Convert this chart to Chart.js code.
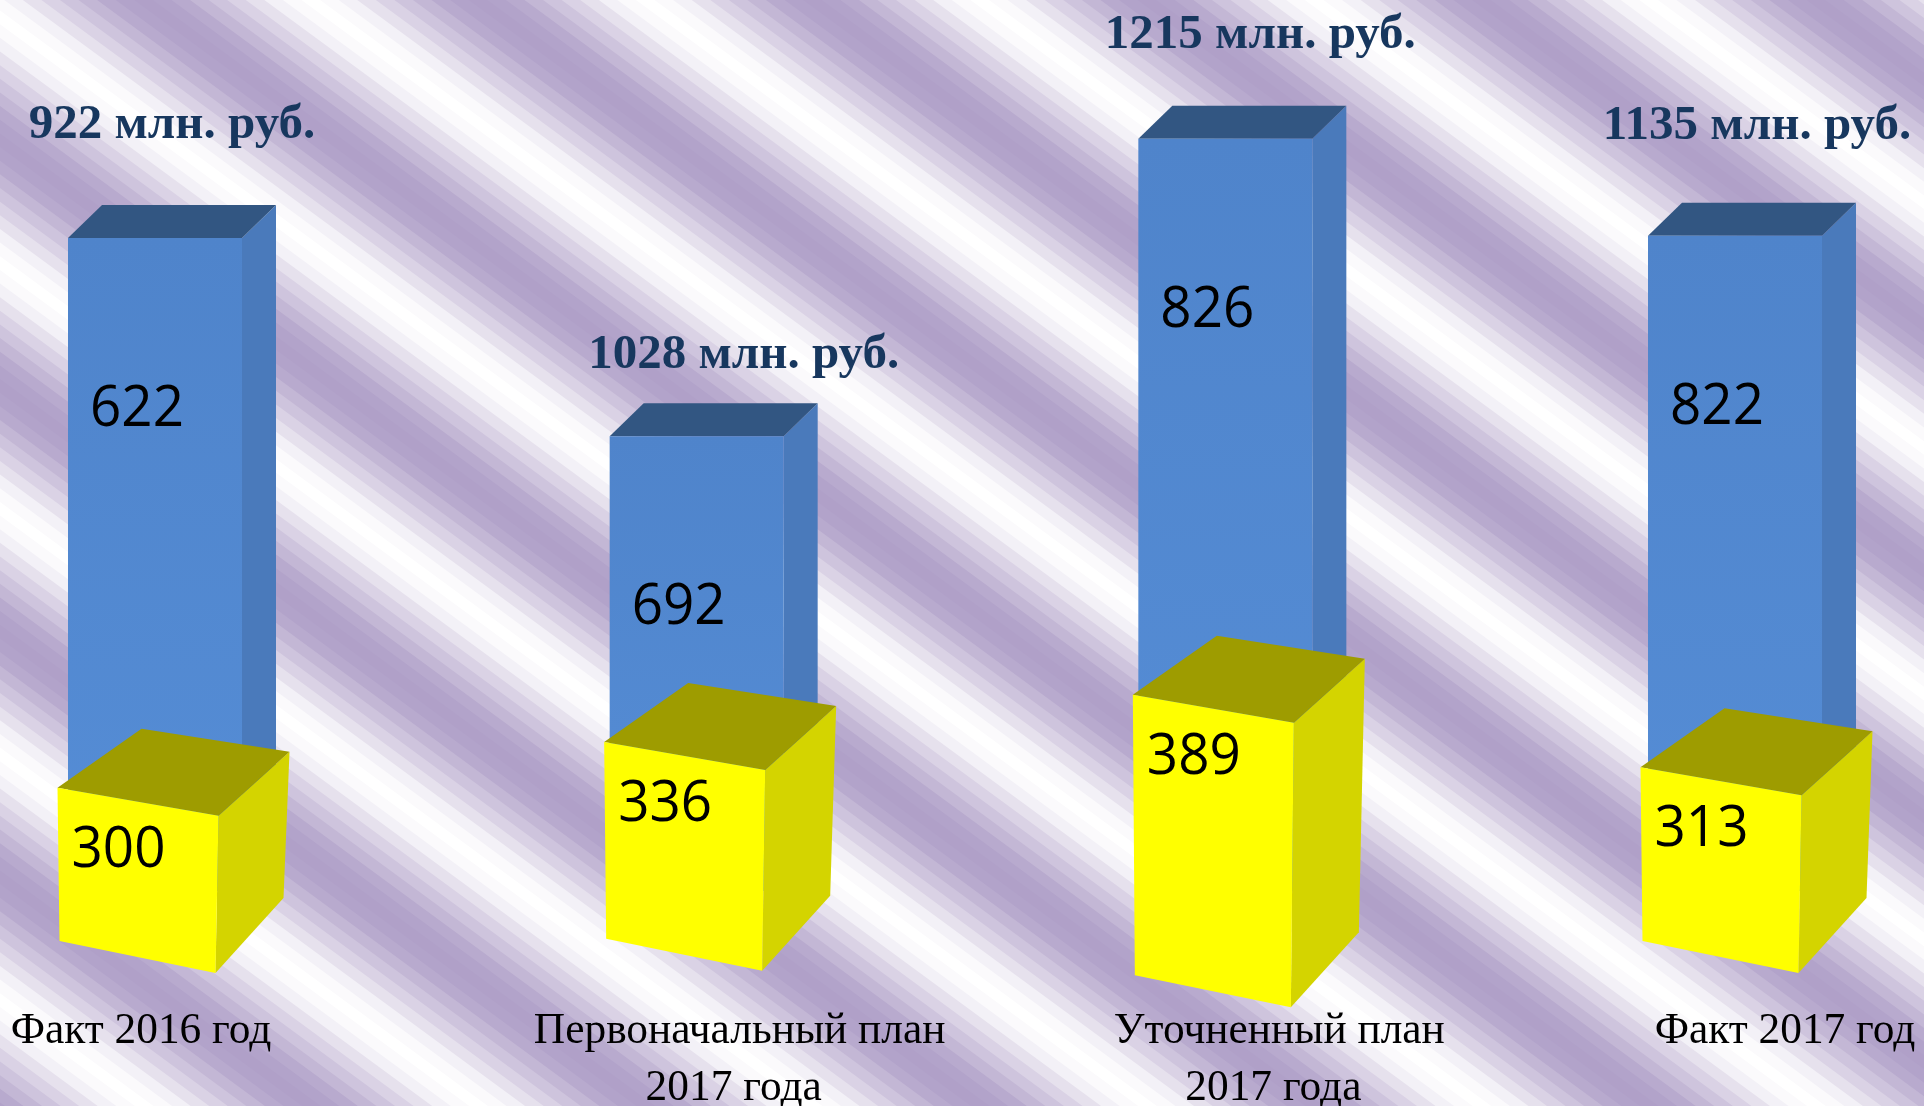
<!DOCTYPE html>
<html><head><meta charset="utf-8">
<style>html,body{margin:0;padding:0;background:#fff;overflow:hidden}canvas{display:block}</style>
<script src="https://cdn.jsdelivr.net/npm/chart.js@4/dist/chart.umd.min.js"></script>
</head><body><canvas id="c" width="1924" height="1106"></canvas>
<script>
// Printed values, as they read in the reference
const categories = ['Факт 2016 год', ['Первоначальный план', '2017 года'], ['Уточненный план', '2017 года'], 'Факт 2017 год'];
const totals = [922, 1028, 1215, 1135];
const blueLabels = [622, 692, 826, 822];
const yellowLabels = [300, 336, 389, 313];
// Drawn heights: the reference's shapes are not to scale with their printed values
const blueHeights = [922, 662, 1052, 925];
const yellowTops = [201, 261, 323, 228];
const yellowBases = [0, 3, -45, 0];

const layout3d = {
  blue: { nudge: [-8, 7, 9, -8], depth: [34, -33], hide: 50, labelAt: [22, 188] },
  yellow: { nudge: [-25, -5, -3, -22], labelAt: [14, 79], drop: 28, bottomDrop: 32,
            backLeft: [84, -59], backRight: [71, -64], backBottom: [68, -75] },
  total: { at: [[17, -100], [47, -68], [35, -91], [22, -97]] },
  tick: { dx: [-22, 50, 63, 42], baseline: 1043, lineHeight: 57, secondLineDx: -6 }
};

function poly(ctx, pts, fill) {
  ctx.beginPath();
  pts.forEach((p, i) => i ? ctx.lineTo(p[0], p[1]) : ctx.moveTo(p[0], p[1]));
  ctx.closePath();
  ctx.fillStyle = fill;
  ctx.fill();
}

const stripes = {
  id: 'stripes',
  beforeDraw(chart) {
    const { ctx, width, height } = chart;
    const angle = 36.3 * Math.PI / 180, period = 198, step = 11, phase = 85;
    const dark = [176, 160, 200];
    // strength of the purple, band by band, from the dark centre to the white centre
    const ramp = [1, .97, .9, .76, .62, .47, .32, .15, .05, 0];
    const s = Math.sin(angle), c = Math.cos(angle);
    const dMin = -height * c - step, dMax = width * s + step;
    ctx.save();
    ctx.fillStyle = '#fff';
    ctx.fillRect(0, 0, width, height);
    const k0 = Math.floor((dMin - phase) / step);
    for (let k = k0; phase + k * step - step / 2 < dMax; k++) {
      const d = phase + k * step - step / 2;
      const m = ((k % 18) + 18) % 18;
      const t = ramp[m <= 9 ? m : 18 - m];
      const col = dark.map(v => Math.round(255 + (v - 255) * t));
      const x0 = d * s, y0 = -d * c;
      const L = 3000, w = step + 1;
      poly(ctx, [[x0 - c * L, y0 - s * L], [x0 + c * L, y0 + s * L],
                 [x0 + c * L + s * w, y0 + s * L - c * w], [x0 - c * L + s * w, y0 - s * L - c * w]],
           `rgb(${col[0]},${col[1]},${col[2]})`);
    }
    ctx.restore();
  }
};

const cuboids = {
  id: 'cuboids',
  beforeDatasetDraw(chart, args) {
    const { ctx } = chart;
    const ds = chart.data.datasets[args.index];
    const cfg = layout3d[ds.kind];
    args.meta.data.forEach((el, i) => {
      const p = el.getProps(['x', 'y', 'base', 'width'], true);
      const x0 = p.x - p.width / 2 + cfg.nudge[i], x1 = x0 + p.width;
      if (ds.kind === 'blue') {
        const yT = p.y, yB = p.base - cfg.hide, [dx, dy] = cfg.depth;
        poly(ctx, [[x1, yT], [x1 + dx, yT + dy], [x1 + dx, yB + dy], [x1, yB]], ds.sideColor);
        poly(ctx, [[x0, yT], [x0 + dx, yT + dy], [x1 + dx, yT + dy], [x1, yT]], ds.topColor);
        const g = ctx.createLinearGradient(0, yT, 0, yB);
        g.addColorStop(0, ds.frontTop);
        g.addColorStop(1, ds.frontBottom);
        poly(ctx, [[x0, yT], [x1, yT], [x1, yB], [x0, yB]], g);
      } else {
        // floating bar: y = upper-left corner, base = lower-left corner of the tilted front face
        const yT = p.y, yB = p.base;
        const TL = [x0, yT], TR = [x1, yT + cfg.drop], BR = [x1 - 3, yB + cfg.bottomDrop], BL = [x0 + 2, yB];
        const BKL = [TL[0] + cfg.backLeft[0], TL[1] + cfg.backLeft[1]];
        const BKR = [TR[0] + cfg.backRight[0], TR[1] + cfg.backRight[1]];
        const BKB = [BR[0] + cfg.backBottom[0], BR[1] + cfg.backBottom[1]];
        poly(ctx, [TR, BKR, BKB, BR], ds.sideColor);
        poly(ctx, [TL, BKL, BKR, TR], ds.topColor);
        poly(ctx, [TL, TR, BR, BL], ds.frontTop);
      }
    });
    return false;
  },
  afterDraw(chart) {
    const { ctx } = chart;
    const x = chart.scales.x;
    const metaOf = kind => chart.getDatasetMeta(chart.data.datasets.findIndex(d => d.kind === kind));
    const blue = metaOf('blue'), yellow = metaOf('yellow');
    ctx.save();
    ctx.textBaseline = 'alphabetic';
    // bar value labels
    ctx.fillStyle = '#000';
    ctx.font = '57px "Open Sans"';
    ctx.textAlign = 'left';
    const labelWidth = 94;
    blue.data.forEach((el, i) => {
      const c = layout3d.blue;
      ctx.fillText(blueLabels[i], el.x - el.width / 2 + c.nudge[i] + c.labelAt[0], el.y + c.labelAt[1], labelWidth);
    });
    yellow.data.forEach((el, i) => {
      const c = layout3d.yellow;
      ctx.fillText(yellowLabels[i], el.x - el.width / 2 + c.nudge[i] + c.labelAt[0], el.y + c.labelAt[1], labelWidth);
    });
    // totals above the bars
    ctx.fillStyle = '#17375E';
    ctx.font = 'bold 49px "Liberation Serif"';
    ctx.textAlign = 'center';
    blue.data.forEach((el, i) => {
      const [dx, dy] = layout3d.total.at[i];
      ctx.fillText(totals[i] + ' млн. руб.', el.x + layout3d.blue.nudge[i] + dx, el.y + dy);
    });
    // category labels, taken from the x scale
    ctx.fillStyle = '#000';
    ctx.font = '43.4px "Liberation Serif"';
    categories.forEach((label, i) => {
      const lines = Array.isArray(label) ? label : [label];
      const px = x.getPixelForValue(i) + layout3d.tick.dx[i];
      lines.forEach((ln, k) => ctx.fillText(ln, px + k * layout3d.tick.secondLineDx, layout3d.tick.baseline + k * layout3d.tick.lineHeight));
    });
    ctx.restore();
  }
};

new Chart(document.getElementById('c'), {
  type: 'bar',
  plugins: [stripes, cuboids],
  data: {
    labels: categories,
    datasets: [
      { kind: 'blue', label: 'Всего', data: blueHeights, order: 2, grouped: false, barThickness: 174,
        backgroundColor: '#5083C8', frontTop: '#4F84CB', frontBottom: '#558DD6', sideColor: '#4A7ABB', topColor: '#325682' },
      { kind: 'yellow', label: 'Часть', data: yellowTops.map((t, i) => [yellowBases[i], t]), order: 1, grouped: false, barThickness: 161,
        backgroundColor: '#FFFF00', frontTop: '#FFFF00', sideColor: '#D4D400', topColor: '#9E9C00' }
    ]
  },
  options: {
    responsive: false,
    animation: false,
    events: [],
    layout: { padding: { left: 163, right: 181, top: 0, bottom: 0 } },
    plugins: { legend: { display: false }, title: { display: false }, tooltip: { enabled: false } },
    scales: {
      x: { display: false, offset: false },
      y: { display: false, min: -216.4, max: 1234.1 }
    }
  }
});
</script></body></html>
